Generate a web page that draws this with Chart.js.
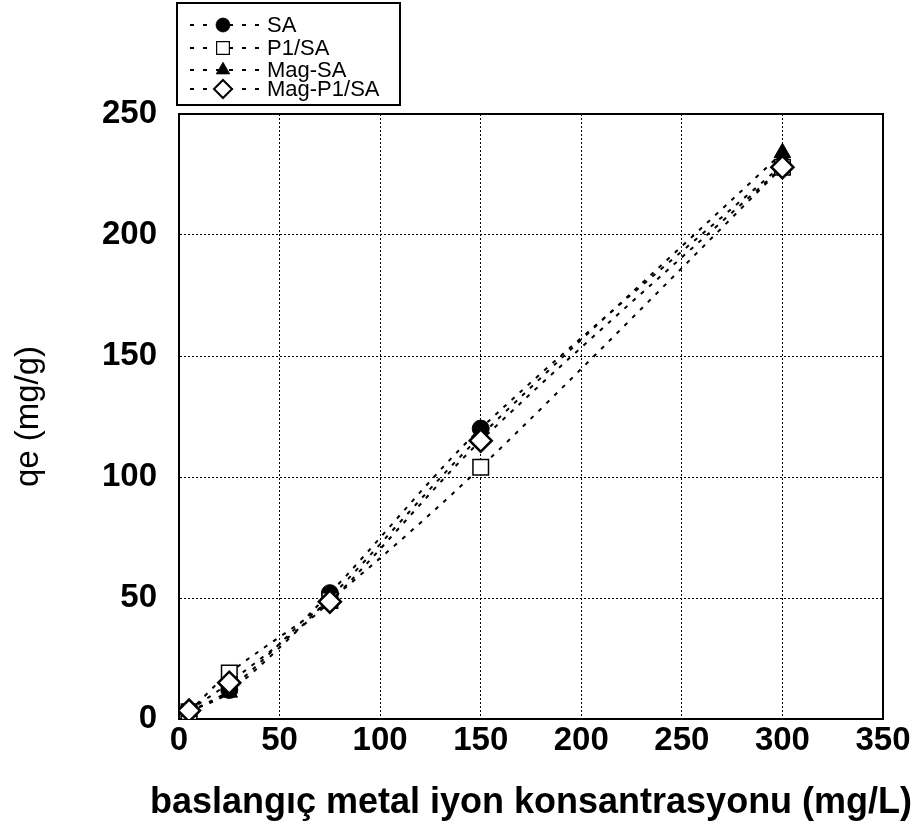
<!DOCTYPE html>
<html>
<head>
<meta charset="utf-8">
<script src="https://cdn.jsdelivr.net/npm/chart.js@4/dist/chart.umd.min.js"></script>
<style>
  html, body { margin: 0; padding: 0; background: #fff; }
  #wrap { width: 915px; height: 827px; position: relative; }
</style>
</head>
<body>
<div id="wrap"><canvas id="myChart"></canvas></div>
<script>
// başlangıç konsantrasyonları (mg/L)
var conc = [5, 25, 75, 150, 300];

// qe değerleri (mg/g)
var qeSA = [3, 12, 52, 120, 229];
var qeP1SA = [3, 19, 49, 104, 228];
var qeMagSA = [3, 11, 50, 117, 234];
var qeMagP1SA = [3.5, 15, 48.5, 115, 228];

var seriesNames = ["SA", "P1/SA", "Mag-SA", "Mag-P1/SA"];
var seriesValues = [qeSA, qeP1SA, qeMagSA, qeMagP1SA];

var xTicks = [0, 50, 100, 150, 200, 250, 300, 350];
var yTicks = [0, 50, 100, 150, 200, 250];

var xTitle = 'baslangıç metal iyon konsantrasyonu (mg/L)';
var yTitle = 'qe (mg/g)';

// marker styles for each series
var markers = [
  { pointStyle: 'circle', radius: 8.5, fill: '#000', width: 1 },
  { pointStyle: 'rect', radius: 11, fill: '#fff', width: 1.5 },
  { pointStyle: 'triangle', radius: 9.5, fill: '#000', width: 1 },
  { pointStyle: 'rectRot', radius: 11, fill: '#fff', width: 2.5 }
];

const FONT = '"Liberation Sans", Arial, sans-serif';

function toPoints(ys) {
  return conc.map((x, i) => ({ x: x, y: ys[i] }));
}

// çerçeve (üst ve sağ kenar dahil)
const framePlugin = {
  id: 'frame',
  beforeDatasetsDraw(chart) {
    const { ctx, chartArea: a } = chart;
    ctx.save();
    ctx.strokeStyle = '#000';
    ctx.lineWidth = 2;
    ctx.setLineDash([]);
    ctx.strokeRect(a.left, a.top, a.right - a.left, a.bottom - a.top);
    ctx.restore();
  }
};

// x ekseni başlığı: scale title genişliği eksenle sınırlı olduğu için ayrı çiziliyor
const xTitlePlugin = {
  id: 'xTitle',
  afterDraw(chart) {
    const { ctx, chartArea: a } = chart;
    ctx.save();
    ctx.fillStyle = '#000';
    ctx.font = 'bold 36px ' + FONT;
    ctx.textAlign = 'center';
    ctx.textBaseline = 'middle';
    ctx.fillText(xTitle, (a.left + a.right) / 2, 803);
    ctx.restore();
  }
};

// sol üstteki açıklama kutusu
const boxLegend = {
  id: 'boxLegend',
  afterDraw(chart) {
    const ctx = chart.ctx;
    const bx = 177, by = 3, bw = 223, bh = 102;
    ctx.save();
    ctx.fillStyle = '#fff';
    ctx.fillRect(bx, by, bw, bh);
    ctx.strokeStyle = '#000';
    ctx.lineWidth = 2;
    ctx.strokeRect(bx, by, bw, bh);

    const rows = [25, 48, 70, 89];
    for (let i = 0; i < seriesNames.length; i++) {
      const y = rows[i];
      ctx.strokeStyle = '#000';
      ctx.lineWidth = 2;
      ctx.setLineDash([4, 9]);
      ctx.beginPath();
      ctx.moveTo(190, y);
      ctx.lineTo(259, y);
      ctx.stroke();
      ctx.setLineDash([]);

      const m = markers[i];
      ctx.fillStyle = m.fill;
      ctx.strokeStyle = '#000';
      ctx.lineWidth = m.width * 0.8;
      Chart.helpers.drawPoint(ctx, {
        pointStyle: m.pointStyle,
        radius: m.radius * 0.82,
        rotation: 0,
        borderWidth: m.width * 0.8
      }, 223, y);

      ctx.fillStyle = '#000';
      ctx.font = '22px ' + FONT;
      ctx.textBaseline = 'middle';
      ctx.textAlign = 'left';
      ctx.fillText(seriesNames[i], 267, y + 1);
    }
    ctx.restore();
  }
};

const datasets = seriesNames.map((name, i) => ({
  label: name,
  data: toPoints(seriesValues[i]),
  showLine: true,
  borderColor: '#000',
  borderWidth: 2,
  borderDash: [4, 7],
  tension: 0.3,
  pointStyle: markers[i].pointStyle,
  pointRadius: markers[i].radius,
  pointBackgroundColor: markers[i].fill,
  pointBorderColor: '#000',
  pointBorderWidth: markers[i].width,
  order: seriesNames.length - i
}));

const ctx = document.getElementById('myChart').getContext('2d');
const myChart = new Chart(ctx, {
  type: 'scatter',
  data: { datasets: datasets },
  options: {
    responsive: true,
    maintainAspectRatio: false,
    animation: false,
    layout: { padding: { top: 114, right: 32, left: 0, bottom: 0 } },
    plugins: {
      legend: { display: false },
      tooltip: { enabled: false }
    },
    scales: {
      x: {
        type: 'linear',
        min: 0,
        max: 350,
        afterFit(scale) { scale.height = 108; },
        afterBuildTicks(scale) { scale.ticks = xTicks.map(v => ({ value: v })); },
        grid: { color: '#000', lineWidth: 1, drawTicks: false },
        border: { display: true, color: '#000', width: 2, dash: [2, 2] },
        ticks: {
          color: '#000',
          padding: 2,
          maxRotation: 0,
          font: { family: FONT, size: 33, weight: 'bold' }
        },
        title: { display: false }
      },
      y: {
        type: 'linear',
        min: 0,
        max: 250,
        afterFit(scale) { scale.width = 179; },
        afterBuildTicks(scale) { scale.ticks = yTicks.map(v => ({ value: v })); },
        grid: { color: '#000', lineWidth: 1, drawTicks: false },
        border: { display: true, color: '#000', width: 2, dash: [2, 2] },
        ticks: {
          color: '#000',
          padding: 22,
          font: { family: FONT, size: 33, weight: 'bold' }
        },
        title: {
          display: true,
          text: yTitle,
          color: '#000',
          padding: { top: 9, bottom: 0 },
          font: { family: FONT, size: 33 }
        }
      }
    }
  },
  plugins: [framePlugin, xTitlePlugin, boxLegend]
});
</script>
</body>
</html>
